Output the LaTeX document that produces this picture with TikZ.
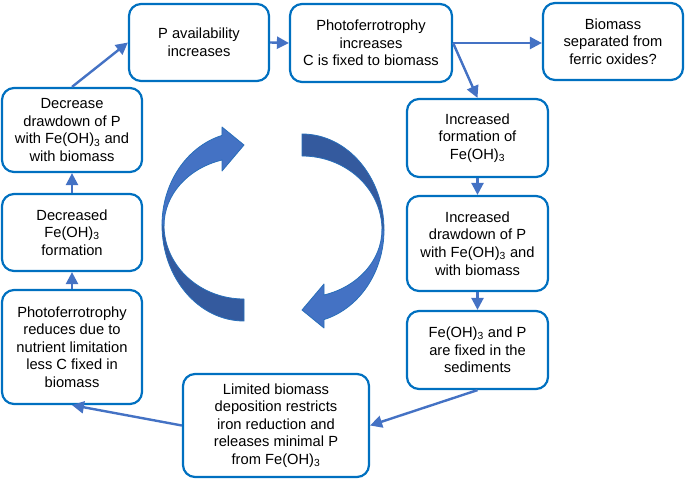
\documentclass[tikz,border=0pt]{standalone}
\usepackage{fontspec}
\setmainfont{Liberation Sans}
\usetikzlibrary{arrows.meta}
\definecolor{boxblue}{RGB}{0,112,192}
\definecolor{arrblue}{RGB}{68,114,196}
\definecolor{darkblue}{RGB}{52,90,158}
\definecolor{edgeblue}{RGB}{40,110,185}
\begin{document}
\begin{tikzpicture}[x=1pt,y=-1pt,
 box/.style={draw=boxblue, line width=2.2pt, rounded corners=12pt, align=center, inner sep=2pt, font=\fontsize{14.7}{17.6}\selectfont},
 flow/.style={draw=arrblue, line width=2.4pt, -{Triangle[length=12pt,width=12pt]}},
 lightpart/.style={fill=arrblue, draw=edgeblue, line width=0.8pt, line join=round},
 darkpart/.style={fill=darkblue, draw=edgeblue, line width=0.8pt, line join=round}]
\useasboundingbox (0,0) rectangle (685,481);

\node[box, minimum width=140pt, minimum height=77pt] (b1) at (199,42.5) {P availability\\increases};
\node[box, minimum width=162pt, minimum height=78pt] (b2) at (371,43) {Photoferrotrophy\\increases\\C is fixed to biomass};
\node[box, minimum width=140pt, minimum height=77pt] (b3) at (613,41.5) {Biomass\\separated from\\ferric oxides?};
\node[box, minimum width=141pt, minimum height=78pt] (b4) at (477.5,138) {Increased\\formation of\\Fe(OH)\textsubscript{3}};
\node[box, minimum width=141pt, minimum height=95pt] (b5) at (477.5,243.5) {Increased\\drawdown of P\\with Fe(OH)\textsubscript{3} and\\with biomass};
\node[box, minimum width=141pt, minimum height=78pt] (b6) at (477.5,350) {Fe(OH)\textsubscript{3} and P\\are fixed in the\\sediments};
\node[box, minimum width=186pt, minimum height=103pt] (b7) at (276,425.5) {Limited biomass\\deposition restricts\\iron reduction and\\releases minimal P\\from Fe(OH)\textsubscript{3}};
\node[box, minimum width=140pt, minimum height=114pt] (b8) at (72,347) {Photoferrotrophy\\reduces due to\\nutrient limitation\\less C fixed in\\biomass};
\node[box, minimum width=140pt, minimum height=77pt] (b9) at (72,232.5) {Decreased\\Fe(OH)\textsubscript{3}\\formation};
\node[box, minimum width=140pt, minimum height=84pt] (b10) at (72,130) {Decrease\\drawdown of P\\with Fe(OH)\textsubscript{3} and\\with biomass};

\draw[flow] (b1.east) -- (b2.west);
\draw[flow] (b2.east) -- (b2.east -| b3.west);
\draw[flow] (b2.east) -- (b4.north);
\draw[flow] (b4.south) -- (b5.north);
\draw[flow] (b5.south) -- (b6.north);
\draw[flow] (b6.south) -- (b7.east);
\draw[flow] (b7.west) -- (b8.south);
\draw[flow] (b8.north) -- (b9.south);
\draw[flow] (b9.north) -- (b10.south);
\draw[flow] (b10.north) -- (b1.west);

% central cycle arrows
\begin{scope}
 \path[darkpart] (162,225) arc[start angle=180, end angle=90, x radius=82, y radius=96]
   -- (244,299) arc[start angle=90, end angle=180, x radius=80, y radius=74] -- cycle;
 \path[lightpart] (162,225) arc[start angle=180, end angle=254.4, x radius=82, y radius=93]
   -- (222,127) -- (244,145) -- (222,171) -- (222,160)
   arc[start angle=254, end angle=180, x radius=80, y radius=68] -- cycle;
\end{scope}
\begin{scope}[rotate around={180:(273,227.5)}]
 \path[darkpart] (162,225) arc[start angle=180, end angle=90, x radius=82, y radius=96]
   -- (244,299) arc[start angle=90, end angle=180, x radius=80, y radius=74] -- cycle;
 \path[lightpart] (162,225) arc[start angle=180, end angle=254.4, x radius=82, y radius=93]
   -- (222,127) -- (244,145) -- (222,171) -- (222,160)
   arc[start angle=254, end angle=180, x radius=80, y radius=68] -- cycle;
\end{scope}
\end{tikzpicture}
\end{document}
